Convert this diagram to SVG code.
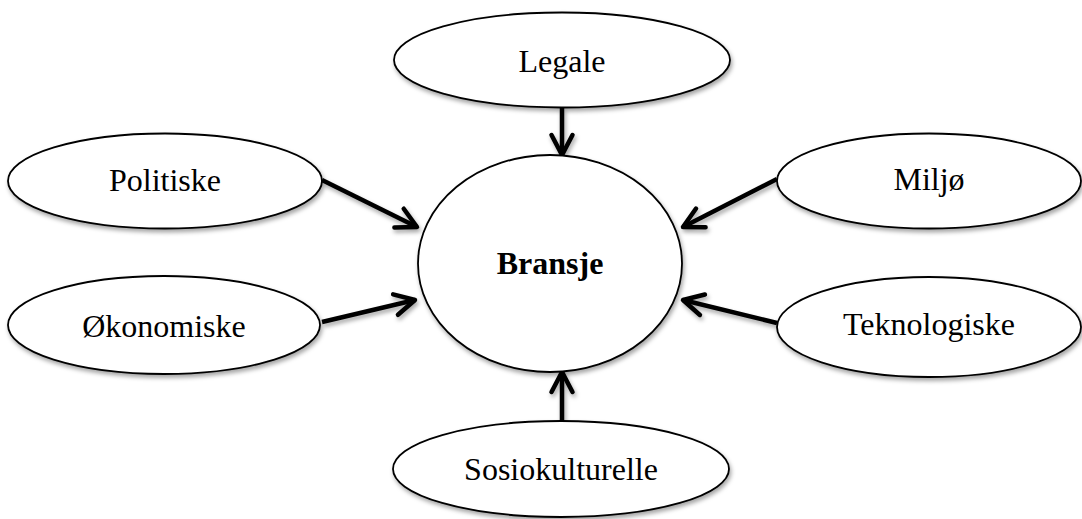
<svg xmlns="http://www.w3.org/2000/svg" width="1082" height="519" viewBox="0 0 1082 519">
<style>
.node ellipse{fill:#fff;stroke:#000;stroke-width:1.8;filter:url(#sh)}
.node text{font-family:"Liberation Serif","Times New Roman",serif;font-size:32px;fill:#000;text-anchor:middle}
.node text.b{font-weight:bold}
.conn path{fill:none;stroke:#000;stroke-width:4.5;marker-end:url(#ah)}
</style>
<defs>
<filter id="sh" x="-10%" y="-10%" width="125%" height="130%">
<feDropShadow dx="1.5" dy="3" stdDeviation="2" flood-color="#000" flood-opacity="0.35"/>
</filter>
<marker id="ah" markerUnits="userSpaceOnUse" viewBox="-28 -16 32 32" refX="-2" refY="0" markerWidth="32" markerHeight="32" orient="auto">
<path d="M-22,-10.5 L-2,0 L-22,10.5" fill="none" stroke="#000" stroke-width="4.5" stroke-linecap="round" stroke-linejoin="round"/>
</marker>
</defs>
<rect width="1082" height="519" fill="#fff"/>
<g id="connectors" class="conn" filter="url(#sh)">
<path d="M562,108 L562,155"/>
<path d="M562,421 L562,372"/>
<path d="M322,180 L417,227"/>
<path d="M322,322 L415,300"/>
<path d="M777,179 L683,227"/>
<path d="M777,323 L683,300"/>
</g>
<g id="bransje" class="node"><ellipse cx="550" cy="263.5" rx="132" ry="108.5"/><text class="b" x="550" y="274">Bransje</text></g>
<g id="legale" class="node"><ellipse cx="562" cy="60" rx="168" ry="47.5"/><text x="562" y="72">Legale</text></g>
<g id="politiske" class="node"><ellipse cx="165" cy="181" rx="157" ry="47.5"/><text x="165" y="191">Politiske</text></g>
<g id="miljo" class="node"><ellipse cx="929" cy="181" rx="152" ry="47.5"/><text x="929" y="190">Miljø</text></g>
<g id="okonomiske" class="node"><ellipse cx="164" cy="325" rx="156" ry="49"/><text x="164" y="337">Økonomiske</text></g>
<g id="teknologiske" class="node"><ellipse cx="929" cy="327" rx="152" ry="50"/><text x="929" y="335">Teknologiske</text></g>
<g id="sosiokulturelle" class="node"><ellipse cx="561" cy="469" rx="168" ry="48"/><text x="561" y="480">Sosiokulturelle</text></g>
</svg>
